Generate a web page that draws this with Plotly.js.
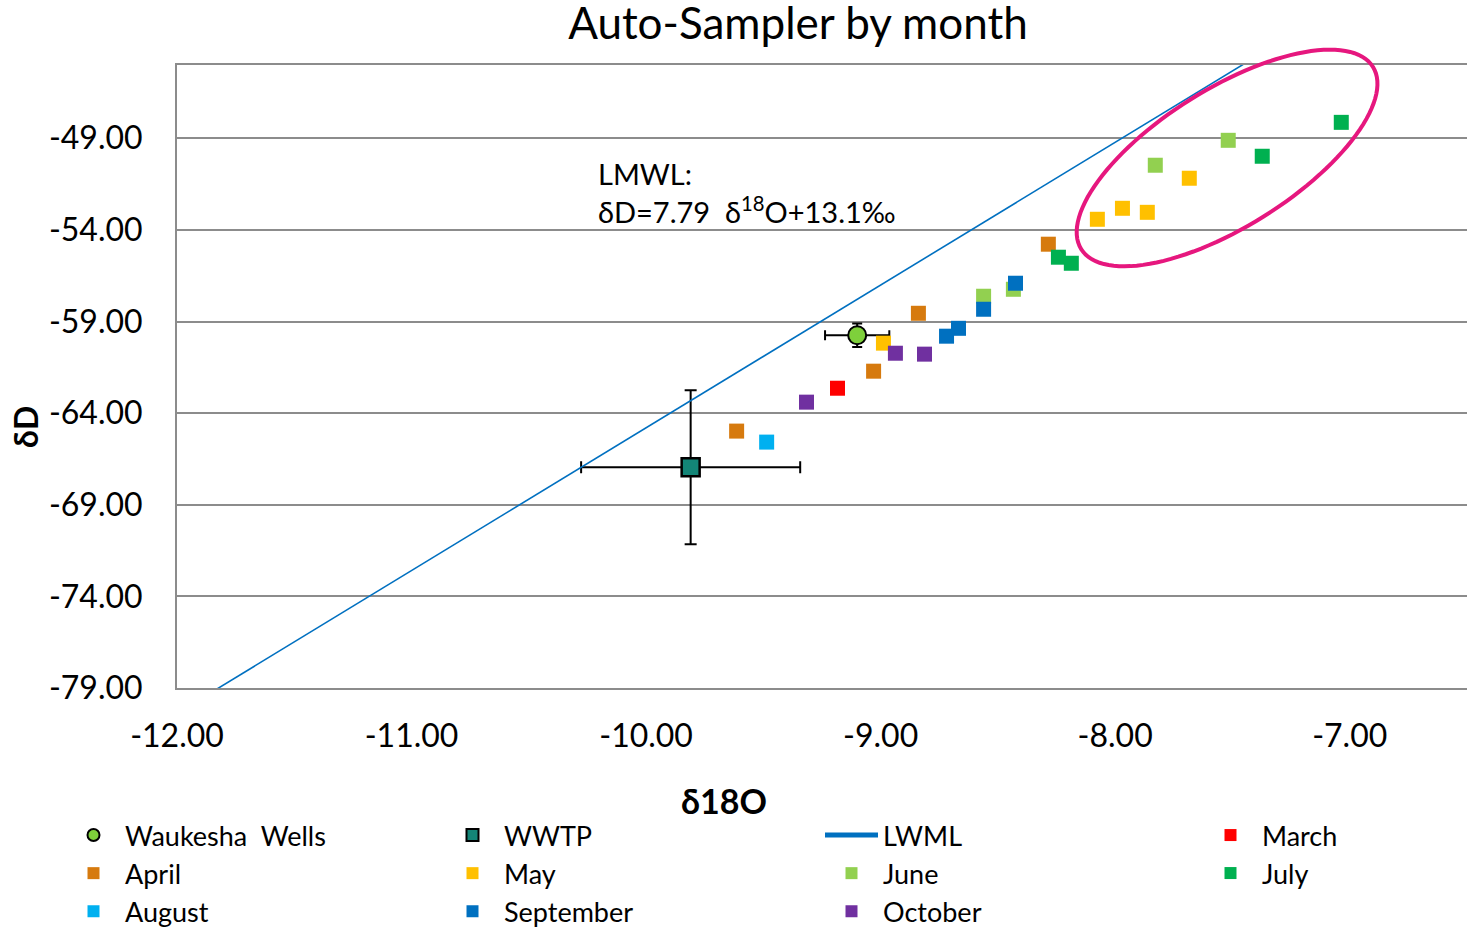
<!DOCTYPE html>
<html>
<head>
<meta charset="utf-8">
<script src="https://cdn.plot.ly/plotly-3.0.1.min.js"></script>
<style>
  html, body { margin: 0; padding: 0; background: #fff; }
  #chart { width: 1468px; height: 927px; }
</style>
</head>
<body>
<div id="chart"></div>
<script>
// Reference samples (with uncertainty)
const wellsX = [-9.10];
const wellsY = [-59.75];
const wellsErrX = [0.137];
const wellsErrY = [0.64];

const wwtpX = [-9.81];
const wwtpY = [-66.95];
const wwtpErrX = [0.467];
const wwtpErrY = [4.2];

// Local meteoric water line: δD = 7.79 δ18O + 13.1
const lmwlX = [-12.0, -7.0];
const lmwlY = [-80.38, -41.43];

// Auto-sampler results by month (δ18O, δD)
const marchX = [-9.184];
const marchY = [-62.64];

const aprilX = [-8.285, -8.839, -9.030, -9.614];
const aprilY = [-54.78, -58.55, -61.71, -64.98];

const mayX = [-8.988, -8.076, -7.969, -7.863, -7.684];
const mayY = [-60.18, -53.42, -52.82, -53.04, -51.18];

const juneX = [-8.561, -8.434, -7.829, -7.518];
const juneY = [-57.62, -57.24, -50.47, -49.11];

const julyX = [-8.242, -8.187, -7.373, -7.036];
const julyY = [-55.49, -55.82, -49.98, -48.13];

const augustX = [-9.486];
const augustY = [-65.58];

const septemberX = [-8.425, -8.561, -8.668, -8.719];
const septemberY = [-56.91, -58.33, -59.37, -59.80];

const octoberX = [-8.937, -8.813, -9.316];
const octoberY = [-60.73, -60.78, -63.40];

const yTicks = [-79, -74, -69, -64, -59, -54, -49];
const xTicks = [-12, -11, -10, -9, -8, -7];

// Layout geometry
const W = 1468, H = 927;
const M = { l: 177, r: 1, t: 65, b: 239 };
const xRange = [-12, -6.5];
const yRange = [-79, -45];
const plotW = W - M.l - M.r;
const plotH = H - M.t - M.b;

const FONT = 'Lato, "Open Sans", "Noto Sans", sans-serif';
const GRID = '#8c8c8c';

// Highlight ellipse around the late-spring / summer cluster, in paper
// coordinates so it may run past the top of the plotting area.
function ellipsePath(cx, cy, aPx, bPx, angleDeg, n) {
  const t = angleDeg * Math.PI / 180;
  let d = '';
  for (let i = 0; i <= n; i++) {
    const s = 2 * Math.PI * i / n;
    const u = aPx * Math.cos(s), v = bPx * Math.sin(s);
    const dx = u * Math.cos(t) - v * Math.sin(t);
    const dy = u * Math.sin(t) + v * Math.cos(t);
    const px = (cx - xRange[0]) / (xRange[1] - xRange[0]) + dx / plotW;
    const py = (cy - yRange[0]) / (yRange[1] - yRange[0]) + dy / plotH;
    d += (i === 0 ? 'M' : 'L') + px.toFixed(5) + ',' + py.toFixed(5);
  }
  return d + 'Z';
}

function monthTrace(name, x, y, color, legend) {
  return {
    type: 'scatter', mode: 'markers', name: name, x: x, y: y,
    legend: legend || 'legend',
    marker: { symbol: 'square', size: 15, color: color, line: { width: 0 } },
    hoverinfo: 'x+y+name'
  };
}

const traces = [
  {
    type: 'scatter', mode: 'markers', name: 'Waukesha  Wells',
    x: wellsX, y: wellsY,
    marker: { symbol: 'circle', size: 18, color: '#7ED03B', line: { color: '#000', width: 2 } },
    error_x: { type: 'data', array: wellsErrX, visible: true, color: '#000', thickness: 2, width: 5 },
    error_y: { type: 'data', array: wellsErrY, visible: true, color: '#000', thickness: 2, width: 5 }
  },
  {
    type: 'scatter', mode: 'markers', name: 'WWTP',
    x: wwtpX, y: wwtpY,
    marker: { symbol: 'square', size: 18, color: '#138577', line: { color: '#000', width: 2.5 } },
    error_x: { type: 'data', array: wwtpErrX, visible: true, color: '#000', thickness: 2, width: 6 },
    error_y: { type: 'data', array: wwtpErrY, visible: true, color: '#000', thickness: 2, width: 6 }
  },
  {
    type: 'scatter', mode: 'lines', name: 'LWML',
    x: lmwlX, y: lmwlY,
    line: { color: '#0070C0', width: 1.6 }
  },
  monthTrace('March', marchX, marchY, '#FF0000', 'legend2'),
  monthTrace('April', aprilX, aprilY, '#D67A0E'),
  monthTrace('May', mayX, mayY, '#FFC000'),
  monthTrace('June', juneX, juneY, '#92D050'),
  monthTrace('July', julyX, julyY, '#00B050', 'legend3'),
  monthTrace('August', augustX, augustY, '#00B0F0'),
  monthTrace('September', septemberX, septemberY, '#0070C0'),
  monthTrace('October', octoberX, octoberY, '#7030A0')
];

const legendFont = { family: FONT, size: 27, color: '#000' };
const legendTop = 811;
const legendRow = 38;

// Right-hand legend column: one single-entry legend per row
function sideLegend(row) {
  return {
    orientation: 'h',
    xref: 'container', yref: 'container',
    x: 1199 / W, xanchor: 'left',
    y: 1 - (legendTop + row * legendRow) / H, yanchor: 'top',
    itemwidth: 53,
    itemsizing: 'constant',
    font: legendFont,
    bgcolor: 'rgba(0,0,0,0)'
  };
}

const layout = {
  width: W, height: H,
  margin: M,
  paper_bgcolor: '#fff', plot_bgcolor: '#fff',
  font: { family: FONT, color: '#000' },
  title: {
    text: 'Auto-Sampler by month',
    font: { family: FONT, size: 44, color: '#000' },
    xref: 'container', yref: 'container',
    x: 798 / W, xanchor: 'center',
    y: 1 - 24 / H, yanchor: 'middle'
  },
  xaxis: {
    range: xRange, automargin: false,
    tickvals: xTicks,
    ticktext: xTicks.map(v => v.toFixed(2)),
    showgrid: false, zeroline: false,
    showline: true, linecolor: GRID, linewidth: 2, mirror: true,
    ticks: '', ticklabelstandoff: 19,
    tickfont: { family: FONT, size: 32, color: '#000' }
  },
  yaxis: {
    range: yRange, automargin: false,
    tickvals: yTicks,
    ticktext: yTicks.map(v => v.toFixed(2)),
    showgrid: true, gridcolor: GRID, gridwidth: 2,
    zeroline: false,
    showline: true, linecolor: GRID, linewidth: 2,
    ticks: '', ticklabelstandoff: 26,
    tickfont: { family: FONT, size: 32, color: '#000' }
  },
  showlegend: true,
  legend: {
    orientation: 'h',
    xref: 'container', yref: 'container',
    x: 62 / W, xanchor: 'left',
    y: 1 - legendTop / H, yanchor: 'top',
    entrywidth: 311, entrywidthmode: 'pixels',
    itemwidth: 53,
    itemsizing: 'constant',
    font: legendFont,
    bgcolor: 'rgba(0,0,0,0)',
    traceorder: 'normal'
  },
  legend2: sideLegend(0),
  legend3: sideLegend(1),
  shapes: [
    {
      type: 'path', xref: 'paper', yref: 'paper', layer: 'above',
      path: ellipsePath(-7.523, -50.075, 172, 69, 32, 120),
      line: { color: '#E6177E', width: 4 },
      fillcolor: 'rgba(0,0,0,0)'
    }
  ],
  annotations: [
    {
      xref: 'x', yref: 'y', x: -10.215, y: -49.85,
      xanchor: 'left', yanchor: 'top', align: 'left', showarrow: false,
      text: 'LMWL:<br>δD=7.79  δ<sup>18</sup>O+13.1‰',
      font: { family: FONT, size: 29, color: '#000' }
    },
    {
      xref: 'paper', yref: 'paper',
      x: (724 - M.l) / plotW, y: -(800 - (H - M.b)) / plotH,
      xanchor: 'center', yanchor: 'middle', showarrow: false,
      text: '<b>δ18O</b>',
      font: { family: FONT, size: 34, color: '#000' }
    },
    {
      xref: 'paper', yref: 'paper',
      x: (25 - M.l) / plotW, y: ((H - M.b) - 427) / plotH,
      xanchor: 'center', yanchor: 'middle', showarrow: false,
      textangle: -90,
      text: '<b>δD</b>',
      font: { family: FONT, size: 32, color: '#000' }
    }
  ]
};

Plotly.newPlot('chart', traces, layout, { displayModeBar: false, staticPlot: true });
</script>
</body>
</html>
